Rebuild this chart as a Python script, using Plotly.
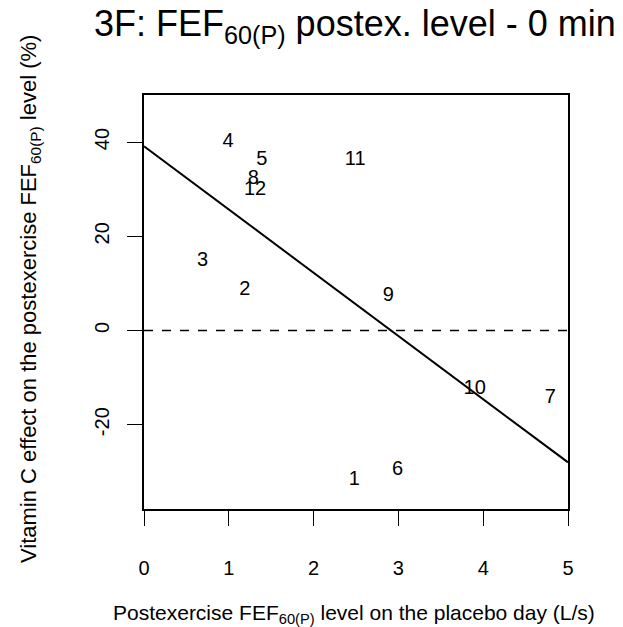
import plotly.graph_objects as go

# Data
subject_ids = ["1", "2", "3", "4", "5", "6", "7", "8", "9", "10", "11", "12"]
placebo_level = [2.48, 1.19, 0.69, 0.99, 1.39, 2.99, 4.79, 1.29, 2.88, 3.90, 2.49, 1.31]
vitc_effect = [-31.7, 8.5, 14.7, 40.0, 36.1, -29.6, -14.3, 32.2, 7.3, -12.4, 36.1, 29.9]
fit_intercept = 39.1
fit_slope = -13.42
x_ticks = [0, 1, 2, 3, 4, 5]
x_tick_labels = ["0", "1", "2", "3", "4", "5"]
y_ticks = [-20, 0, 20, 40]
y_tick_labels = ["-20", "0", "20", "40"]
x_range = [0, 5]
y_range = [-37.9, 50.0]

FONT = "Liberation Sans, Arial, Helvetica, sans-serif"

fig = go.Figure()

# zero reference line
fig.add_trace(go.Scatter(
    x=x_range, y=[0, 0], mode="lines",
    line=dict(color="black", width=1.3, dash="dash"),
    hoverinfo="skip", showlegend=False,
))

# regression line
fit_x = x_range
fit_y = [fit_intercept + fit_slope * v for v in fit_x]
fig.add_trace(go.Scatter(
    x=fit_x, y=fit_y, mode="lines",
    line=dict(color="black", width=2),
    hoverinfo="skip", showlegend=False,
))

# subject labels
fig.add_trace(go.Scatter(
    x=placebo_level, y=vitc_effect, mode="text", text=subject_ids,
    textposition="middle center",
    textfont=dict(family=FONT, size=20, color="black"),
    showlegend=False,
))

L, R, T, B = 144, 55, 95, 118
W, H = 623, 627
pw = W - L - R
ph = H - T - B

fig.update_layout(
    width=W, height=H,
    margin=dict(l=L, r=R, t=T, b=B),
    paper_bgcolor="white", plot_bgcolor="white",
    font=dict(family=FONT, size=20, color="black"),
    showlegend=False,
    xaxis=dict(
        range=x_range, tickvals=x_ticks, ticktext=x_tick_labels,
        ticks="outside", ticklen=15,
        tickwidth=1.3, tickcolor="black",
        showline=True, linecolor="black", linewidth=1.5, mirror=True,
        showgrid=False, zeroline=False,
        ticklabelstandoff=25,
        tickfont=dict(family=FONT, size=20),
    ),
    yaxis=dict(
        range=y_range, tickvals=y_ticks, ticktext=y_tick_labels,
        ticks="outside", ticklen=15,
        tickwidth=1.3, tickcolor="black",
        showline=True, linecolor="black", linewidth=1.5, mirror=True,
        showgrid=False, zeroline=False, tickangle=-90,
        ticklabelstandoff=10,
        tickfont=dict(family=FONT, size=20),
    ),
    annotations=[
        dict(
            text="3F: FEF<sub>60(P)</sub> postex. level - 0 min",
            xref="paper", yref="paper",
            x=(355 - L) / pw, y=(H - 26 - B) / ph,
            xanchor="center", yanchor="middle", showarrow=False,
            font=dict(family=FONT, size=36, color="black"),
        ),
        dict(
            text="Postexercise FEF<sub>60(P)</sub> level on the placebo day (L/s)",
            xref="paper", yref="paper",
            x=(354 - L) / pw, y=(H - 614 - B) / ph,
            xanchor="center", yanchor="middle", showarrow=False,
            font=dict(family=FONT, size=21, color="black"),
        ),
        dict(
            text="Vitamin C effect on the postexercise FEF<sub>60(P)</sub> level (%)",
            xref="paper", yref="paper",
            x=(30 - L) / pw, y=(H - 299 - B) / ph,
            xanchor="center", yanchor="middle", showarrow=False,
            textangle=-90,
            font=dict(family=FONT, size=22, color="black"),
        ),
    ],
)

fig.write_html(
    "out.html",
    config={"displayModeBar": False},
    post_script="document.body.style.margin='0';document.body.style.padding='0';",
)
